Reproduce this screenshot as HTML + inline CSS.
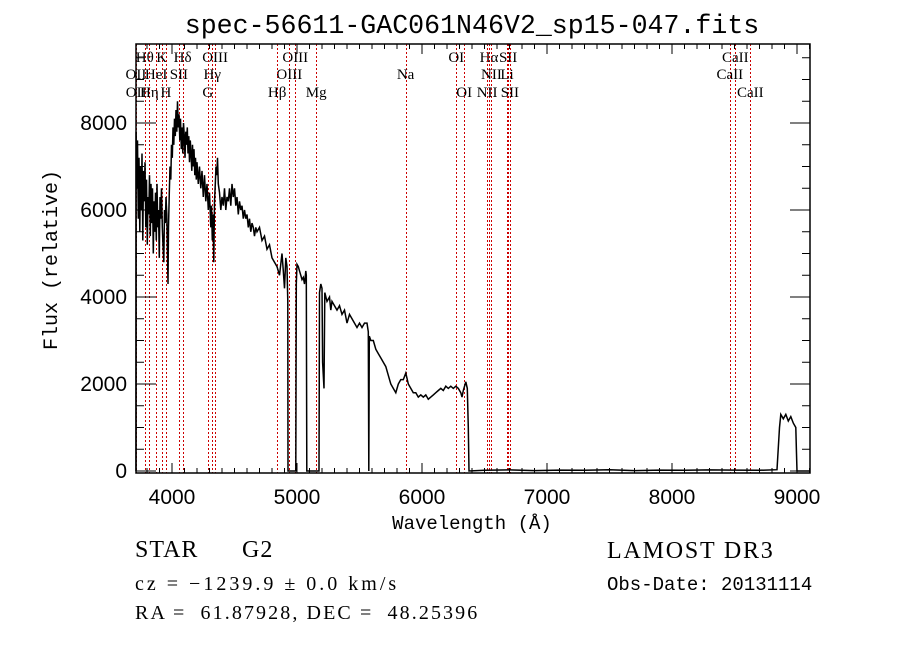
<!DOCTYPE html>
<html><head><meta charset="utf-8"><style>
html,body{margin:0;padding:0;background:#fff;}
svg{display:block;}
</style></head><body>
<svg id="chart" width="900" height="649" viewBox="0 0 900 649" xmlns="http://www.w3.org/2000/svg">
<rect x="0" y="0" width="900" height="649" fill="#fff"/>
<text x="472" y="33" text-anchor="middle" font-family="Liberation Mono, monospace" font-size="26.6">spec-56611-GAC061N46V2_sp15-047.fits</text>
<g id="lines"></g>
<g id="axes"></g>
<path id="spec" fill="none" stroke="#000" stroke-width="1.5"/>
<text x="472" y="529" text-anchor="middle" font-family="Liberation Mono, monospace" font-size="19">Wavelength (Å)</text>
<text transform="translate(57,260) rotate(-90)" text-anchor="middle" font-family="Liberation Mono, monospace" font-size="20">Flux (relative)</text>
<text font-family="Liberation Serif, serif" font-size="24" letter-spacing="1"><tspan x="135" y="557">STAR</tspan><tspan x="242" y="557">G2</tspan></text>
<text x="135" y="590" font-family="Liberation Serif, serif" font-size="20" letter-spacing="3" xml:space="preserve">cz = −1239.9 ± 0.0 km/s</text>
<text x="135" y="619" font-family="Liberation Serif, serif" font-size="20" letter-spacing="2.1" xml:space="preserve">RA =  61.87928, DEC =  48.25396</text>
<text x="607" y="558" font-family="Liberation Serif, serif" font-size="24" letter-spacing="1.8">LAMOST DR3</text>
<text x="607" y="590" font-family="Liberation Mono, monospace" font-size="19">Obs-Date: 20131114</text>
</svg>
<script>
const wl=[3712,3713,3718,3724,3730,3736,3742,3748,3754,3760,3766,3772,3778,3784,3790,3796,3802,3808,3814,3820,3826,3832,3838,3844,3850,3856,3862,3868,3874,3880,3886,3892,3898,3904,3910,3916,3922,3928,3934,3940,3946,3952,3958,3964,3968,3972,3978,3984,3990,3996,4002,4008,4014,4020,4026,4032,4038,4044,4050,4056,4062,4068,4074,4080,4086,4092,4098,4104,4110,4116,4122,4128,4134,4140,4146,4152,4158,4164,4170,4176,4182,4188,4194,4200,4210,4220,4230,4240,4250,4260,4270,4280,4290,4300,4310,4316,4322,4328,4334,4340,4346,4352,4358,4364,4370,4380,4390,4400,4410,4420,4430,4440,4450,4460,4470,4480,4490,4500,4510,4520,4530,4540,4550,4560,4570,4580,4590,4600,4610,4620,4630,4640,4650,4660,4670,4680,4700,4720,4740,4760,4780,4800,4820,4840,4860,4880,4890,4900,4910,4920,4926,4928,4990,4994,5000,5010,5020,5030,5040,5050,5060,5070,5074,5078,5176,5180,5190,5200,5205,5216,5222,5240,5260,5270,5280,5300,5320,5340,5360,5380,5400,5420,5440,5460,5480,5500,5520,5540,5560,5570,5574,5578,5590,5610,5630,5650,5670,5690,5710,5730,5750,5770,5790,5810,5830,5850,5870,5890,5910,5930,5950,5970,5990,6010,6030,6050,6070,6090,6110,6130,6150,6170,6190,6210,6230,6250,6270,6290,6310,6320,6330,6350,6362,6370,6376,6500,6700,6900,7100,7300,7500,7700,7900,8100,8300,8500,8700,8840,8860,8870,8890,8910,8930,8950,8970,8990,8996,9000,9100];
const flux=[0,7800,6500,7600,5800,7200,5500,7000,6000,7300,5300,6900,6200,7100,5600,6700,5200,6300,5900,6800,5400,6600,5700,6500,5000,6200,5500,6400,5300,6600,5600,6000,4900,6300,5800,6500,5600,5200,4800,6000,5700,6300,5900,5000,4300,5600,6400,7000,6700,7500,7200,7900,7500,8100,7700,8300,7800,8500,7900,8200,7600,8100,7400,7900,7300,8000,7700,7200,7800,7500,7900,7300,7700,7100,7600,7300,6900,7500,7000,7400,6800,7200,6700,7100,6600,7000,6500,6900,6300,6800,6200,6600,6000,6400,5600,6100,5300,5900,4800,6200,6600,7000,6800,7200,6600,6400,6000,6300,6100,6500,6000,6300,6200,6500,6100,6600,6300,6500,6100,6300,5900,6200,6000,6100,5800,6000,5800,5900,5600,5800,5500,5700,5600,5400,5600,5500,5600,5300,5400,5100,5200,4900,4800,4700,4500,5000,4600,4200,4900,4700,3900,0,0,4300,4750,4700,4600,4500,4400,4450,4300,4600,4500,0,0,4100,4300,4200,2500,1900,4100,3900,4000,3700,3900,3800,3700,3800,3600,3700,3400,3600,3500,3400,3300,3400,3300,3400,3400,3200,0,3100,3000,3000,2800,2700,2600,2500,2400,2200,2000,1900,1800,2000,2100,2100,2250,2000,1900,1800,1800,1700,1750,1700,1750,1650,1700,1750,1800,1850,1900,1850,1950,1900,1950,1900,1950,1900,1800,1700,1850,2050,1900,1000,0,15,25,10,20,15,30,10,20,15,25,20,15,30,1000,1300,1200,1300,1150,1250,1100,1000,400,0,0];
const lineNames=["Hθ","K","Hδ","OIII","OIII","OI","Hα","SII","CaII","OII","HeI","SII","Hγ","OIII","Na","NII","Li","CaII","OII","Hη","H","G","Hβ","Mg","OI","NII","SII","CaII"];
const lineWl=[3798,3934,4102,4363,5007,6300,6563,6717,8542,3727,3889,4072,4340,4959,5893,6583,6708,8498,3729,3835,3968,4304,4861,5175,6364,6548,6731,8662];
const lineRow=[0,0,0,0,0,0,0,0,0,1,1,1,1,1,1,1,1,1,2,2,2,2,2,2,2,2,2,2];
const xTicks=[4000,5000,6000,7000,8000,9000];
const yTicks=[0,2000,4000,6000,8000];
const z=-1239.9/299792.458;
const L=136,R=810,T=44,B=473;
function X(w){return 172+(w-4000)*0.125;}
function Y(f){return 471-f*0.0435;}
const NS="http://www.w3.org/2000/svg";
function mk(tag,attrs,parent){const e=document.createElementNS(NS,tag);for(const k in attrs)e.setAttribute(k,attrs[k]);parent.appendChild(e);return e;}
const lg=document.getElementById('lines');
const rowY=[62,79,97];
for(let i=0;i<lineWl.length;i++){
  const xr=X(lineWl[i]*(1+z));
  const x=Math.round(xr)+0.5;
  const l=mk('line',{x1:x,x2:x,y1:T,y2:B,stroke:'#cc0000','stroke-width':1,'stroke-dasharray':'2,2'},lg);
  
  
  const t=mk('text',{x:xr,y:rowY[lineRow[i]],'text-anchor':'middle','font-family':'Liberation Serif, serif','font-size':15},lg);
  t.textContent=lineNames[i];
  
  
}
const ag=document.getElementById('axes');
const fr=mk('rect',{x:L,y:T,width:R-L,height:B-T,fill:'none',stroke:'#000','stroke-width':1.5},ag);


for(let w=3800;w<=9100;w+=100){
  const x=X(w);const maj=w%1000===0;const len=maj?10:5;
  mk('line',{x1:x,x2:x,y1:B,y2:B-len,stroke:'#000','stroke-width':1},ag);
  mk('line',{x1:x,x2:x,y1:T,y2:T+len,stroke:'#000','stroke-width':1},ag);
}
for(const w of xTicks){
  const t=mk('text',{x:X(w),y:504,'text-anchor':'middle','font-family':'Liberation Sans, sans-serif','font-size':21},ag);
  t.textContent=w;
  
  
}
for(let f=0;f<=9500;f+=500){
  const y=Y(f);const maj=f%2000===0;const len=maj?20:8;
  mk('line',{x1:L,x2:L+len,y1:y,y2:y,stroke:'#000','stroke-width':1},ag);
  mk('line',{x1:R,x2:R-len,y1:y,y2:y,stroke:'#000','stroke-width':1},ag);
}
for(const f of yTicks){
  const t=mk('text',{x:127,y:Y(f)+7,'text-anchor':'end','font-family':'Liberation Sans, sans-serif','font-size':21},ag);
  t.textContent=f;
  
  
}
let d='';
for(let i=0;i<wl.length;i++){d+=(i?'L':'M')+X(wl[i]).toFixed(1)+','+Y(flux[i]).toFixed(1);}
document.getElementById('spec').setAttribute('d',d);
</script>
</body></html>
